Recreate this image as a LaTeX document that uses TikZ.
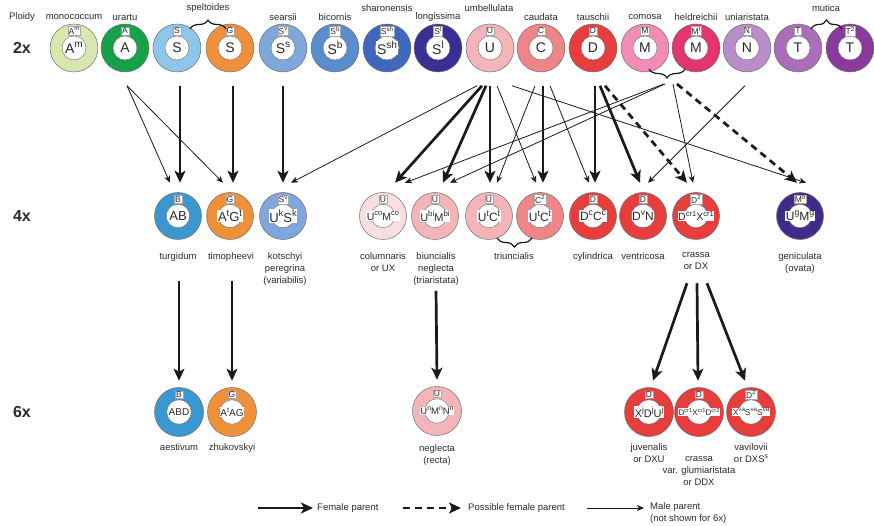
\documentclass[tikz,border=0pt]{standalone}
\usepackage{fontspec}
\usepackage{graphicx}
\setmainfont{Liberation Sans}
\usetikzlibrary{arrows.meta,decorations.pathreplacing}
\definecolor{cMono}{HTML}{D6E8AE}
\definecolor{cUrar}{HTML}{16A04A}
\definecolor{cSpel}{HTML}{8EC5E8}
\definecolor{cG}{HTML}{F0913A}
\definecolor{cSears}{HTML}{7FA7DD}
\definecolor{cBic}{HTML}{5A8DD0}
\definecolor{cShar}{HTML}{3E67BD}
\definecolor{cLong}{HTML}{3A2F93}
\definecolor{cUmb}{HTML}{F4B5B8}
\definecolor{cCaud}{HTML}{EE8587}
\definecolor{cTau}{HTML}{E53E3C}
\definecolor{cCom}{HTML}{F08CB6}
\definecolor{cHeld}{HTML}{E2376E}
\definecolor{cUni}{HTML}{B88DC9}
\definecolor{cT}{HTML}{A96DBA}
\definecolor{cTtwo}{HTML}{8A3A9D}
\definecolor{cTurg}{HTML}{3A97CF}
\definecolor{cColum}{HTML}{F7DFDF}
\definecolor{cGenic}{HTML}{412C8C}
\definecolor{edgec}{HTML}{6E6E6E}
\definecolor{labc}{HTML}{2A2A2A}
\definecolor{arrc}{HTML}{1A1A1A}
\newcommand\su[1]{\raisebox{0.42em}{\scalebox{0.72}{#1}}}
\tikzset{
  ring/.style={circle, draw=edgec, line width=0.5pt, inner sep=0pt},
  hole/.style={circle, fill=white, draw=edgec, line width=0.4pt, inner sep=0pt},
  tagbox/.style={fill=white, draw=edgec!60, line width=0.3pt, inner sep=0.9pt,
    font=\fontsize{8.5}{8.5}\selectfont, text=labc},
  innertxt/.style={fill=white, inner sep=0.6pt, text=labc},
  toplab/.style={font=\fontsize{9.5}{11}\selectfont, text=labc, inner sep=0pt},
  lab/.style={font=\fontsize{9.5}{12}\selectfont, text=labc, align=center, anchor=north, inner sep=0pt},
  ploidy/.style={font=\fontsize{16}{16}\selectfont\bfseries, text=labc, inner sep=0pt},
  female/.style={draw=arrc, line width=2.7pt, -{Stealth[length=12pt,width=11pt,inset=3pt]}},
  possible/.style={female, dash pattern=on 7pt off 5pt},
  male/.style={draw=arrc, line width=0.8pt, -{Stealth[length=7pt,width=6pt,inset=2pt]}},
  bracec/.style={draw=arrc, line width=1.2pt, decorate, decoration={brace, amplitude=9pt}}
}
% name, x, y, colour, tag, inner text, inner font size, ring size
\newcommand\gnode[8]{%
  \node[ring, fill=#4, minimum size=#8pt] (#1) at (#2,#3) {};
  \node[hole, minimum size=0.5*#8pt] (#1-h) at (#1.center) {};
  \node[innertxt, font=\fontsize{#7}{#7}\selectfont] (#1-i) at (#1.center) {#6};
  \node[tagbox] (#1-t) at ([yshift=0.355*#8pt]#1.center) {#5};
}
\newcommand\conn[5]{\draw[#1] ([xshift=#3pt,yshift=-13.5pt]#2.south) -- ([xshift=#5pt,yshift=9.5pt]#4.north);}
\begin{document}
\begin{tikzpicture}[x=1pt,y=-1pt]
\useasboundingbox (0,0) rectangle (874,526);
% ploidy labels
\node[toplab] (ploidy) at (22,17) {Ploidy};
\node[ploidy] (p2) at (22,48) {2x};
\node[ploidy] (p4) at (22,216) {4x};
\node[ploidy] (p6) at (22,412) {6x};
% 2x row
\gnode{mono}{74}{48}{cMono}{A\su{m}}{A\su{m}}{14}{48}
\gnode{urartu}{125}{48}{cUrar}{A}{A}{14}{48}
\gnode{speltS}{177}{48}{cSpel}{S}{S}{14}{48}
\gnode{speltG}{230}{48}{cG}{G}{S}{14}{48}
\gnode{searsii}{283}{48}{cSears}{S\su{v}}{S\su{s}}{14}{48}
\gnode{bicornis}{335}{48}{cBic}{S\su{b}}{S\su{b}}{14}{48}
\gnode{sharon}{387}{48}{cShar}{S\su{sh}}{S\su{sh}}{14}{48}
\gnode{longis}{438}{48}{cLong}{S\su{l}}{S\su{l}}{14}{48}
\gnode{umbel}{490}{48}{cUmb}{U}{U}{14}{48}
\gnode{caud}{541}{48}{cCaud}{C}{C}{14}{48}
\gnode{tausch}{593}{48}{cTau}{D}{D}{14}{48}
\gnode{comosa}{645}{48}{cCom}{M}{M}{14}{48}
\gnode{held}{696}{48}{cHeld}{M\su{t}}{M}{14}{48}
\gnode{uniar}{747}{48}{cUni}{N}{N}{14}{48}
\gnode{mutT}{798}{48}{cT}{T}{T}{14}{48}
\gnode{mutTT}{850}{48}{cTtwo}{T\su{2}}{T}{14}{48}
% 2x labels
\node[toplab] (l-mono) at (74,17) {monococcum};
\node[toplab] (l-urartu) at (125,17) {urartu};
\node[toplab] (l-spelt) at (208,8) {speltoides};
\node[toplab] (l-searsii) at (283,17) {searsii};
\node[toplab] (l-bicornis) at (335,17) {bicornis};
\node[toplab] (l-sharon) at (387,8) {sharonensis};
\node[toplab] (l-longis) at (438,17) {longissima};
\node[toplab] (l-umbel) at (489,8) {umbellulata};
\node[toplab] (l-caud) at (541,17) {caudata};
\node[toplab] (l-tausch) at (593,17) {tauschii};
\node[toplab] (l-comosa) at (645,17) {comosa};
\node[toplab] (l-held) at (696,17) {heldreichii};
\node[toplab] (l-uniar) at (747,17) {uniaristata};
\node[toplab] (l-mutica) at (826,8) {mutica};
% braces
\draw[bracec] (190,29) -- (226,29);
\draw[bracec] (811,29) -- (842,29);
\draw[bracec] (685,69) -- (649,69);
\coordinate (mbr) at (667,84);
% 4x row
\gnode{turg}{178}{216}{cTurg}{B}{AB}{13}{47}
\gnode{timo}{230}{216}{cG}{G}{A\su{t}G\su{t}}{13}{47}
\gnode{kots}{283}{216}{cSears}{S\su{v}}{U\su{k}S\su{k}}{13}{47}
\gnode{colum}{383}{216}{cColum}{U}{U\su{co}M\su{co}}{10.5}{47}
\gnode{biunc}{435}{216}{cUmb}{U}{U\su{bi}M\su{bi}}{11}{47}
\gnode{triU}{489}{216}{cUmb}{U}{U\su{t}C\su{t}}{12}{47}
\gnode{triC}{540}{216}{cCaud}{C\su{2}}{U\su{t}C\su{t}}{12}{47}
\gnode{cylin}{593}{216}{cTau}{D}{D\su{c}C\su{c}}{12}{47}
\gnode{ventr}{643}{216}{cTau}{D}{D\su{v}N}{12}{47}
\gnode{crass}{696}{216}{cTau}{D\su{2}}{D\su{cr1}X\su{cr1}}{10.5}{47}
\gnode{genic}{800}{216}{cGenic}{M\su{o}}{U\su{g}M\su{g}}{12}{47}
\draw[bracec] (532,238) -- (497,238);
% 4x labels
\node[lab] (l-turg) at (178,252) {turgidum};
\node[lab] (l-timo) at (231,252) {timopheevi};
\node[lab] (l-kots) at (285,252) {kotschyi\\peregrina\\(variabilis)};
\node[lab] (l-colum) at (383,252) {columnaris\\or UX};
\node[lab] (l-biunc) at (436,252) {biuncialis\\neglecta\\(triaristata)};
\node[lab] (l-triun) at (514,252) {triuncialis};
\node[lab] (l-cylin) at (593,252) {cylindrica};
\node[lab] (l-ventr) at (643,252) {ventricosa};
\node[lab] (l-crass) at (696,252) {crassa\\or DX};
\node[lab] (l-genic) at (800,252) {geniculata\\(ovata)};
% 6x row
\gnode{aest}{179}{412}{cTurg}{B}{ABD}{10}{49}
\gnode{zhuk}{232}{412}{cG}{G}{A\su{t}AG}{10}{49}
\gnode{negl}{437}{411}{cUmb}{U}{U\su{n}M\su{n}N\su{n}}{9.5}{49}
\gnode{juven}{649}{412}{cTau}{D}{X\su{j}D\su{j}U\su{j}}{11}{49}
\gnode{crass6}{699}{412}{cTau}{D}{D\su{cr1}X\su{cr1}D\su{cr2}}{8}{49}
\gnode{vavil}{751}{412}{cTau}{D\su{2}}{X\su{va}S\su{va}S\su{va}}{8.5}{49}
% 6x labels
\node[lab] (l-aest) at (179,443) {aestivum};
\node[lab] (l-zhuk) at (232,443) {zhukovskyi};
\node[lab] (l-negl) at (437,444) {neglecta\\(recta)};
\node[lab] (l-juven) at (649,443) {juvenalis\\or DXU};
\node[lab] (l-crass6) at (699,456) {crassa\\var. glumiaristata\\or DDX};
\node[lab] (l-vavil) at (751,443) {vavilovii\\or DXS\su{s}};
% 2x -> 4x connectors
\conn{male}{urartu}{2}{turg}{-8}
\conn{male}{urartu}{2}{timo}{-7}
\conn{female}{speltS}{3}{turg}{2}
\conn{female}{speltG}{3}{timo}{3}
\conn{female}{searsii}{0}{kots}{0}
\conn{male}{umbel}{-13}{kots}{8}
\conn{female}{umbel}{-8}{colum}{12}
\conn{female}{umbel}{-4}{biunc}{8}
\conn{female}{umbel}{0}{triU}{1}
\conn{male}{caud}{-6}{triU}{8}
\conn{male}{umbel}{7}{triC}{-4}
\conn{female}{caud}{2}{triC}{3}
\conn{male}{caud}{9}{cylin}{-4}
\conn{female}{tausch}{2}{cylin}{2}
\conn{female}{tausch}{7}{ventr}{-3}
\conn{male}{uniar}{-2}{ventr}{5}
\conn{possible}{tausch}{12}{crass}{-9}
\conn{male}{umbel}{22}{genic}{6}
\draw[male] ([xshift=-3pt]mbr) -- ([xshift=22pt,yshift=9.5pt]colum.north);
\draw[male] ([xshift=-2pt]mbr) -- ([xshift=15pt,yshift=9.5pt]biunc.north);
\draw[male] ([xshift=6pt]mbr) -- ([xshift=-3pt,yshift=9.5pt]crass.north);
\draw[possible] ([xshift=10pt]mbr) -- ([xshift=-3pt,yshift=9.5pt]genic.north);
% 4x -> 6x connectors
\draw[female] ([xshift=1pt,yshift=-41pt]turg.south) -- ([yshift=6.5pt]aest.north);
\draw[female] ([xshift=2pt,yshift=-41pt]timo.south) -- ([yshift=6.5pt]zhuk.north);
\draw[female] ([xshift=1pt,yshift=-51pt]biunc.south) -- ([yshift=6.5pt]negl.north);
\draw[female] ([xshift=-9pt,yshift=-43.5pt]crass.south) -- ([xshift=4pt,yshift=6.5pt]juven.north);
\draw[female] ([xshift=1pt,yshift=-43.5pt]crass.south) -- ([xshift=-1pt,yshift=6.5pt]crass6.north);
\draw[female] ([xshift=11pt,yshift=-43.5pt]crass.south) -- ([xshift=-6pt,yshift=6.5pt]vavil.north);
% legend
\node[toplab, anchor=west] (leg-f) at (317,508) {Female parent};
\node[toplab, anchor=west] (leg-p) at (468,508) {Possible female parent};
\node[toplab, anchor=north west, align=left, font=\fontsize{9.5}{11.5}\selectfont] (leg-m) at (650,502.5) {Male parent\\(not shown for 6x)};
\coordinate (leg-fs) at (258,508);
\coordinate (leg-ps) at (403,508);
\coordinate (leg-ms) at (587,508);
\draw[female] (leg-fs) -- ([xshift=-4pt]leg-f.west);
\draw[possible] (leg-ps) -- ([xshift=-7pt]leg-p.west);
\draw[male] (leg-ms) -- ([xshift=-6pt]leg-m.north west |- leg-ms);
\end{tikzpicture}
\end{document}
